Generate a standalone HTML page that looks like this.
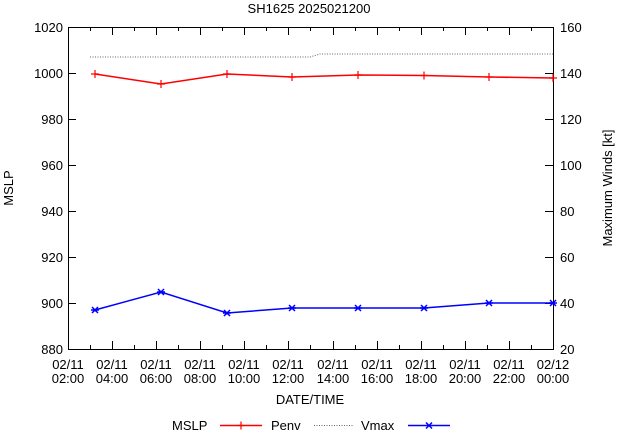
<!DOCTYPE html><html><head><style>body{margin:0;background:#fff}svg{display:block;font-family:"Liberation Sans",sans-serif;font-size:13px}</style></head><body>
<svg width="619" height="432" viewBox="0 0 619 432">
<rect width="619" height="432" fill="#fff"/>
<text x="309" y="13" text-anchor="middle">SH1625 2025021200</text>
<g stroke="#000" stroke-width="1" fill="none">
<rect x="68.5" y="27.5" width="485" height="322"/>
<!-- y ticks -->
<path d="M68 73.5h8M68 119.5h8M68 165.5h8M68 211.5h8M68 257.5h8M68 303.5h8M553 73.5h-8M553 119.5h-8M553 165.5h-8M553 211.5h-8M553 257.5h-8M553 303.5h-8"/>
<path d="M112.5 349v-8M156.5 349v-8M200.5 349v-8M244.5 349v-8M288.5 349v-8M333.5 349v-8M377.5 349v-8M421.5 349v-8M465.5 349v-8M509.5 349v-8
M90.5 349v-4M134.5 349v-4M178.5 349v-4M222.5 349v-4M266.5 349v-4M310.5 349v-4M355.5 349v-4M399.5 349v-4M443.5 349v-4M487.5 349v-4M531.5 349v-4
M112.5 27v8M156.5 27v8M200.5 27v8M244.5 27v8M288.5 27v8M333.5 27v8M377.5 27v8M421.5 27v8M465.5 27v8M509.5 27v8
M90.5 27v4M134.5 27v4M178.5 27v4M222.5 27v4M266.5 27v4M310.5 27v4M355.5 27v4M399.5 27v4M443.5 27v4M487.5 27v4M531.5 27v4"/>
</g>
<g text-anchor="end">
<text x="63" y="32">1020</text><text x="63" y="78">1000</text><text x="63" y="124">980</text><text x="63" y="170">960</text><text x="63" y="216">940</text><text x="63" y="262">920</text><text x="63" y="308">900</text><text x="63" y="354">880</text>
</g>
<g>
<text x="560" y="32">160</text><text x="560" y="78">140</text><text x="560" y="124">120</text><text x="560" y="170">100</text><text x="560" y="216">80</text><text x="560" y="262">60</text><text x="560" y="308">40</text><text x="560" y="354">20</text>
</g>
<g text-anchor="middle">
<text x="68" y="369">02/11</text><text x="68" y="383">02:00</text>
<text x="112" y="369">02/11</text><text x="112" y="383">04:00</text>
<text x="156" y="369">02/11</text><text x="156" y="383">06:00</text>
<text x="200" y="369">02/11</text><text x="200" y="383">08:00</text>
<text x="244" y="369">02/11</text><text x="244" y="383">10:00</text>
<text x="288" y="369">02/11</text><text x="288" y="383">12:00</text>
<text x="333" y="369">02/11</text><text x="333" y="383">14:00</text>
<text x="377" y="369">02/11</text><text x="377" y="383">16:00</text>
<text x="421" y="369">02/11</text><text x="421" y="383">18:00</text>
<text x="465" y="369">02/11</text><text x="465" y="383">20:00</text>
<text x="509" y="369">02/11</text><text x="509" y="383">22:00</text>
<text x="553" y="369">02/12</text><text x="553" y="383">00:00</text>
<text x="310" y="404">DATE/TIME</text>
</g>
<text transform="translate(13,188) rotate(-90)" text-anchor="middle">MSLP</text>
<text transform="translate(612,188) rotate(-90)" text-anchor="middle">Maximum Winds [kt]</text>
<path d="M90 57H310L320 54H553" stroke="#666" stroke-width="1" stroke-dasharray="1,1.5" fill="none"/>
<path d="M95 74L161 84L227 74L292 77L358 75L424 75.5L489 77L553 78" stroke="#f00" stroke-width="1.5" fill="none"/>
<g stroke="#f00" stroke-width="1.2">
<path d="M91 74h8M95 70v8M157 84h8M161 80v8M223 74h8M227 70v8M288 77h8M292 73v8M354 75h8M358 71v8M420 75.5h8M424 71.5v8M485 77h8M489 73v8M549 78h8M553 74v8"/>
</g>
<path d="M95 310L161 292L227 313L292 308L358 308L424 308L489 303L553 303" stroke="#00f" stroke-width="1.5" fill="none"/>
<g stroke="#00f" stroke-width="1.5">
<path d="M92 307l6 6M98 307l-6 6M91 310h8M158 289l6 6M164 289l-6 6M157 292h8M224 310l6 6M230 310l-6 6M223 313h8M289 305l6 6M295 305l-6 6M288 308h8M355 305l6 6M361 305l-6 6M354 308h8M421 305l6 6M427 305l-6 6M420 308h8M486 300l6 6M492 300l-6 6M485 303h8M550 300l6 6M556 300l-6 6M549 303h8"/>
</g>
<text x="172" y="430">MSLP</text>
<path d="M220 425.5h42" stroke="#f00" stroke-width="1.5"/><path d="M237 425.5h8M241 421.5v8" stroke="#f00" stroke-width="1.2"/>
<text x="271" y="430">Penv</text>
<path d="M314 425.5h40" stroke="#666" stroke-dasharray="1,1.5"/>
<text x="361" y="430">Vmax</text>
<path d="M408 425.5h42" stroke="#00f" stroke-width="1.5"/><path d="M426 422.5l6 6M432 422.5l-6 6" stroke="#00f" stroke-width="1.5"/>
</svg></body></html>
